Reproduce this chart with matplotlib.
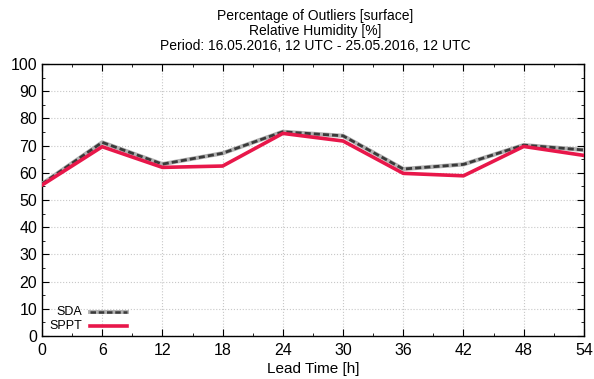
import matplotlib.pyplot as plt
from matplotlib.ticker import MultipleLocator

plt.rcParams['font.family'] = ['Liberation Sans', 'DejaVu Sans']

lead_time = [0, 6, 12, 18, 24, 30, 36, 42, 48, 54]
sda = [55.9, 71.2, 63.2, 67.2, 75.1, 73.6, 61.4, 63.1, 70.2, 68.4]
sppt = [55.5, 69.6, 62.0, 62.5, 74.5, 71.7, 59.8, 58.9, 69.7, 66.4]

fig = plt.figure(figsize=(5.94, 3.79), dpi=100)
ax = fig.add_axes([0.0707, 0.1135, 0.9123, 0.7175])

# SDA: grey underlay with a dark dashed line on top
ax.plot(lead_time, sda, color='#b0b0b0', lw=3.0, zorder=3)
ax.plot(lead_time, sda, color='#3a3a3a', lw=2.0, dashes=(2.2, 1.1), zorder=4)
ax.plot(lead_time, sppt, color='#e8174a', lw=2.6, zorder=5)

ax.set_xlim(0, 54)
ax.set_ylim(0, 100)
ax.xaxis.set_major_locator(MultipleLocator(6))
ax.xaxis.set_minor_locator(MultipleLocator(3))
ax.yaxis.set_major_locator(MultipleLocator(10))
ax.yaxis.set_minor_locator(MultipleLocator(5))
ax.tick_params(which='both', direction='in', top=True, right=True, labelsize=11.5)
ax.tick_params(which='major', length=5)
ax.tick_params(which='minor', length=2.5)
ax.tick_params(axis='x', pad=5)
ax.grid(True, which='major', color='#c8c8c8', linestyle=':', linewidth=0.8)
for s in ax.spines.values():
    s.set_linewidth(1.0)

ax.set_xlabel('Lead Time [h]', fontsize=11, labelpad=3)

fig.text(0.53, 0.975, 'Percentage of Outliers [surface]\nRelative Humidity [%]\n'
         'Period: 16.05.2016, 12 UTC - 25.05.2016, 12 UTC',
         ha='center', va='top', fontsize=10, linespacing=1.05)

# legend drawn by hand in gnuplot style
ax.plot([4.8, 8.5], [8.8, 8.8], color='#b0b0b0', lw=2.8, zorder=3)
ax.plot([4.8, 8.5], [8.8, 8.8], color='#3a3a3a', lw=1.8, dashes=(2.2, 1.1), zorder=4)
ax.plot([4.8, 8.5], [3.8, 3.8], color='#e8174a', lw=2.6, zorder=5)
ax.text(4.0, 8.8, 'SDA', ha='right', va='center', fontsize=9)
ax.text(4.0, 3.8, 'SPPT', ha='right', va='center', fontsize=9)

fig.savefig('out.png', dpi=100)
